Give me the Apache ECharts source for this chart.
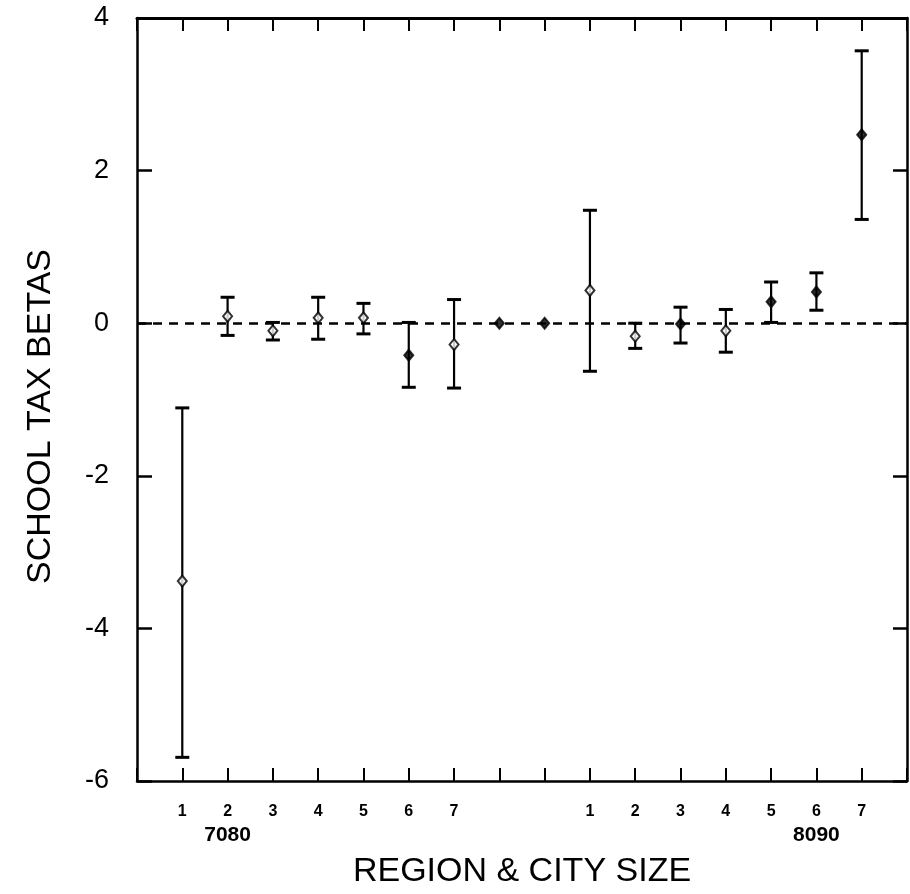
<!DOCTYPE html>
<html>
<head>
<meta charset="utf-8">
<title>School tax betas</title>
<script src="https://cdn.jsdelivr.net/npm/echarts@6/dist/echarts.min.js"></script>
<style>
	html, body { margin: 0; padding: 0; background: #fff; }
	#main { width: 910px; height: 894px; }
</style>
</head>
<body>
<div id="main"></div>
<script>
// 16 positions: 1-7 for 7080, two empty slots, 1-7 for 8090
var xPos = [1, 2, 3, 4, 5, 6, 7, 8, 9, 10, 11, 12, 13, 14, 15, 16];
var tickLabels = ['', '1', '2', '3', '4', '5', '6', '7', '', '', '1', '2', '3', '4', '5', '6', '7', ''];
var groupLabels = ['', '', '7080', '', '', '', '', '', '', '', '', '', '', '', '', '8090', '', ''];
var betas = [-3.38, 0.09, -0.10, 0.07, 0.07, -0.42, -0.28, 0, 0, 0.43, -0.17, -0.01, -0.10, 0.28, 0.41, 2.47];
var lower = [-5.69, -0.16, -0.22, -0.21, -0.14, -0.84, -0.85, null, null, -0.63, -0.33, -0.26, -0.38, 0.01, 0.17, 1.36];
var upper = [-1.11, 0.34, 0.01, 0.34, 0.26, 0.01, 0.31, null, null, 1.48, 0.00, 0.21, 0.18, 0.54, 0.66, 3.57];
var filled = [0, 0, 0, 0, 0, 1, 0, 1, 1, 0, 0, 1, 0, 1, 1, 1];
var yTicks = [-6, -4, -2, 0, 2, 4];

initChart();

function initChart() {
	var chart = echarts.init(document.getElementById('main'));
	var font = 'Liberation Sans';

	var barData = [];
	var pointData = [];
	xPos.forEach(function (x, i) {
		if (lower[i] != null && upper[i] != null) {
			barData.push([x, lower[i], upper[i]]);
		}
		pointData.push({
			value: [x, betas[i]],
			itemStyle: {
				color: filled[i] ? '#000' : '#fff',
				borderColor: '#000',
				borderWidth: 2
			}
		});
	});

	var option = {
		animation: false,
		backgroundColor: '#fff',
		grid: {
			left: 137,
			top: 18,
			width: 775,
			height: 764
		},
		xAxis: [{
			type: 'value',
			position: 'bottom',
			min: 0,
			max: 17,
			interval: 1,
			name: 'REGION & CITY SIZE',
			nameLocation: 'middle',
			nameGap: 74,
			nameTextStyle: { fontFamily: font, fontSize: 34, color: '#000' },
			axisLine: { onZero: false, lineStyle: { color: '#000', width: 2.5 } },
			axisTick: { inside: true, length: 13, lineStyle: { color: '#000', width: 2 } },
			splitLine: { show: false },
			axisLabel: {
				margin: 22,
				formatter: function (v) {
					var t = tickLabels[v] || '';
					var g = groupLabels[v] || '';
					if (g) {
						return '{n|' + t + '}\n{g|' + g + '}';
					}
					return '{n|' + t + '}';
				},
				rich: {
					n: { fontFamily: font, fontSize: 16, fontWeight: 'bold', color: '#000', lineHeight: 18 },
					g: { fontFamily: font, fontSize: 21, fontWeight: 'bold', color: '#000', lineHeight: 28 }
				}
			}
		}, {
			type: 'value',
			position: 'top',
			min: 0,
			max: 17,
			interval: 1,
			axisLine: { onZero: false, lineStyle: { color: '#000', width: 3 } },
			axisTick: { inside: true, length: 13, lineStyle: { color: '#000', width: 2 } },
			axisLabel: { show: false },
			splitLine: { show: false }
		}],
		yAxis: [{
			type: 'value',
			position: 'left',
			min: -6,
			max: 4,
			interval: 2,
			name: 'SCHOOL TAX BETAS',
			nameLocation: 'middle',
			nameGap: 79,
			nameTextStyle: { fontFamily: font, fontSize: 34, color: '#000', padding: [0, 34, 0, 0] },
			axisLine: { onZero: false, lineStyle: { color: '#000', width: 2.5 } },
			axisTick: { inside: true, length: 15, lineStyle: { color: '#000', width: 2.5 } },
			splitLine: { show: false },
			axisLabel: {
				margin: 28,
				fontFamily: font,
				fontSize: 27,
				color: '#000',
				formatter: function (v) {
					return yTicks.indexOf(v) >= 0 ? String(v) : '';
				}
			}
		}, {
			type: 'value',
			position: 'right',
			min: -6,
			max: 4,
			interval: 2,
			axisLine: { onZero: false, lineStyle: { color: '#000', width: 2.5 } },
			axisTick: { inside: true, length: 14, lineStyle: { color: '#000', width: 2.5 } },
			axisLabel: { show: false },
			splitLine: { show: false }
		}],
		series: [{
			// error bars with caps
			type: 'custom',
			xAxisIndex: 0,
			yAxisIndex: 0,
			data: barData,
			z: 2,
			renderItem: function (params, api) {
				var top = api.coord([api.value(0), api.value(2)]);
				var bot = api.coord([api.value(0), api.value(1)]);
				var half = 7;
				return {
					type: 'group',
					children: [{
						type: 'line',
						shape: { x1: top[0], y1: top[1], x2: bot[0], y2: bot[1] },
						style: { stroke: '#000', lineWidth: 2.2 }
					}, {
						type: 'line',
						shape: { x1: top[0] - half, y1: top[1], x2: top[0] + half, y2: top[1] },
						style: { stroke: '#000', lineWidth: 3 }
					}, {
						type: 'line',
						shape: { x1: bot[0] - half, y1: bot[1], x2: bot[0] + half, y2: bot[1] },
						style: { stroke: '#000', lineWidth: 3 }
					}]
				};
			}
		}, {
			type: 'scatter',
			xAxisIndex: 0,
			yAxisIndex: 0,
			symbol: 'diamond',
			symbolSize: [9, 11],
			data: pointData,
			z: 4,
			markLine: {
				silent: true,
				symbol: 'none',
				label: { show: false },
				lineStyle: { color: '#000', width: 2.5, type: [9, 7] },
				data: [{ yAxis: 0 }]
			}
		}]
	};
	chart.setOption(option, true);
}
</script>
</body>
</html>
